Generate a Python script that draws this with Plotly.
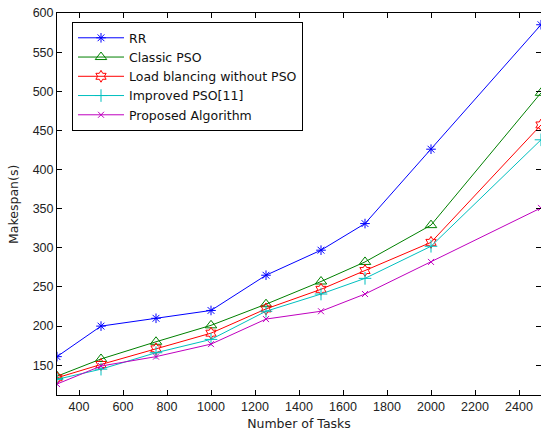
import plotly.graph_objects as go

tasks = [300, 500, 750, 1000, 1250, 1500, 1700, 2000, 2500]
rr = [161, 200, 210, 220, 265, 297, 331, 426, 585]
classic_pso = [136, 158, 180, 201, 228, 257, 282, 329, 498]
load_bal = [134, 151, 171, 191, 222, 247, 271, 307, 457]
improved_pso = [132, 145, 166, 183, 219, 241, 261, 302, 438]
proposed = [126, 149, 161, 177, 209, 219, 241, 282, 351]

x_ticks = [400, 600, 800, 1000, 1200, 1400, 1600, 1800, 2000, 2200, 2400]
y_ticks = [150, 200, 250, 300, 350, 400, 450, 500, 550, 600]

series = [
    ("RR", rr, "#0000ff", "asterisk-open", 8),
    ("Classic PSO", classic_pso, "#008000", "triangle-up-open", 10),
    ("Load blancing without PSO", load_bal, "#ff0000", "hexagram-open", 9),
    ("Improved PSO[11]", improved_pso, "#00bfbf", "cross-thin-open", 9),
    ("Proposed Algorithm", proposed, "#bf00bf", "x-thin-open", 6),
]

fig = go.Figure()
for name, vals, color, sym, size in series:
    fig.add_trace(go.Scatter(
        x=tasks, y=vals, name=name, mode="lines+markers",
        line=dict(color=color, width=1),
        marker=dict(symbol=sym, size=size, color=color, line=dict(color=color, width=1)),
    ))

tick_font = dict(family="Liberation Sans, Arial", size=12.5, color="#222222")
text_font = dict(family="DejaVu Sans", size=12.5, color="#222222")

axis_common = dict(
    showgrid=False, zeroline=False, showline=True, linecolor="black", linewidth=1,
    mirror="ticks", ticks="inside", ticklen=5, tickcolor="black",
    tickfont=tick_font, automargin=False,
)

fig.update_layout(
    width=541, height=437,
    margin=dict(l=57, r=0, t=13, b=42),
    paper_bgcolor="white", plot_bgcolor="white",
    font=text_font,
    xaxis=dict(range=[300, 2500], tickvals=x_ticks,
               title=dict(text="Number of Tasks", standoff=6, font=text_font),
               **axis_common),
    yaxis=dict(range=[112, 600], tickvals=y_ticks, **axis_common),
    legend=dict(
        x=0.031, y=0.976, xanchor="left", yanchor="top",
        bgcolor="white", bordercolor="black", borderwidth=1,
        font=dict(family="DejaVu Sans", size=12.5, color="#111111"),
        tracegroupgap=0, itemwidth=46,
    ),
    showlegend=True,
    annotations=[dict(
        text="Makespan(s)", textangle=-90, showarrow=False,
        xref="paper", yref="paper", x=-0.091, y=0.5,
        xanchor="center", yanchor="middle", font=text_font,
    )],
)

fig.write_html(
    "out.html",
    config={"displayModeBar": False},
    post_script="document.body.style.margin='0';document.body.style.overflow='hidden';",
)
